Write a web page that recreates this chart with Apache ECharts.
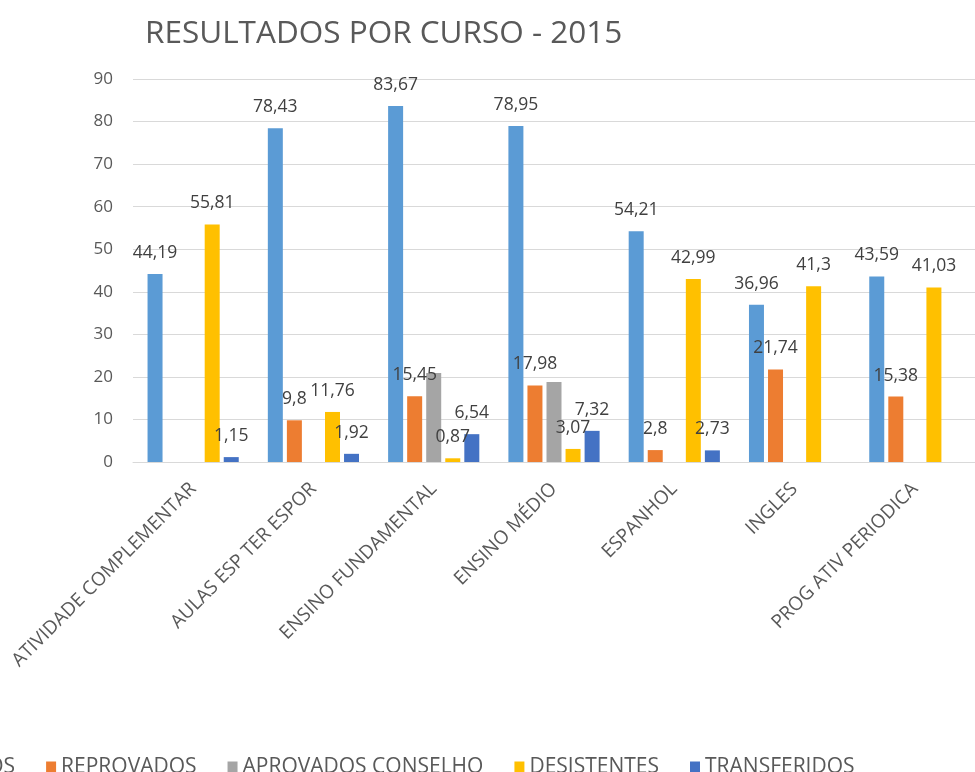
<!DOCTYPE html>
<html>
<head>
<meta charset="utf-8">
<script src="https://cdn.jsdelivr.net/npm/echarts@6/dist/echarts.min.js"></script>
<style>
html, body { margin: 0; padding: 0; background: #fff; }
#main { width: 975px; height: 772px; }
</style>
</head>
<body>
<div id="main"></div>
<script>
// dados do gráfico
var cursos = ['ATIVIDADE COMPLEMENTAR', 'AULAS ESP TER ESPOR', 'ENSINO FUNDAMENTAL', 'ENSINO MÉDIO', 'ESPANHOL', 'INGLES', 'PROG ATIV PERIODICA'];
var aprovados = [44.19, 78.43, 83.67, 78.95, 54.21, 36.96, 43.59];
var reprovados = [null, 9.8, 15.45, 17.98, 2.8, 21.74, 15.38];
var aprovadosConselho = [null, null, 20.9, 18.8, null, null, null];
var desistentes = [55.81, 11.76, 0.87, 3.07, 42.99, 41.3, 41.03];
var transferidos = [1.15, 1.92, 6.54, 7.32, 2.73, null, null];
var yTicks = [0, 10, 20, 30, 40, 50, 60, 70, 80, 90];

var fonte = '"Open Sans", "Noto Sans", sans-serif';

function serie(nome, dados, cor, mostrar) {
    return {
        name: nome,
        type: 'bar',
        data: dados,
        barWidth: 15,
        barGap: '27%',
        itemStyle: { color: cor },
        label: {
            show: mostrar,
            position: 'top',
            distance: 12,
            fontFamily: fonte,
            fontSize: 17.5,
            color: '#404040',
            formatter: function (p) { return String(p.value).replace('.', ','); }
        }
    };
}

var myChart = echarts.init(document.getElementById('main'));
var option = {
    animation: false,
    title: {
        text: 'RESULTADOS POR CURSO - 2015',
        left: 140,
        top: 13,
        textStyle: { fontFamily: fonte, fontSize: 31.5, fontWeight: 'normal', color: '#595959' }
    },
    legend: {
        left: -129,
        top: 752,
        itemWidth: 10,
        itemHeight: 12,
        itemGap: 31,
        icon: 'rect',
        textStyle: { fontFamily: fonte, fontSize: 21, color: '#595959' }
    },
    grid: { left: 133, top: 79, width: 861, bottom: 310, containLabel: false },
    xAxis: {
        type: 'category',
        data: cursos,
        axisLine: { lineStyle: { color: '#d9d9d9' } },
        axisTick: { show: false },
        axisLabel: {
            rotate: 45,
            interval: 0,
            margin: 24,
            fontFamily: fonte,
            fontSize: 19,
            color: '#595959'
        }
    },
    yAxis: {
        type: 'value',
        min: yTicks[0],
        max: yTicks[yTicks.length - 1],
        interval: 10,
        axisLine: { show: false },
        axisTick: { show: false },
        splitLine: { lineStyle: { color: '#d9d9d9' } },
        axisLabel: { margin: 20, fontFamily: fonte, fontSize: 17, color: '#595959' }
    },
    series: [
        serie('APROVADOS', aprovados, '#5B9BD5', true),
        serie('REPROVADOS', reprovados, '#ED7D31', true),
        serie('APROVADOS CONSELHO', aprovadosConselho, '#A5A5A5', false),
        serie('DESISTENTES', desistentes, '#FFC000', true),
        serie('TRANSFERIDOS', transferidos, '#4472C4', true)
    ]
};
myChart.setOption(option);
</script>
</body>
</html>
